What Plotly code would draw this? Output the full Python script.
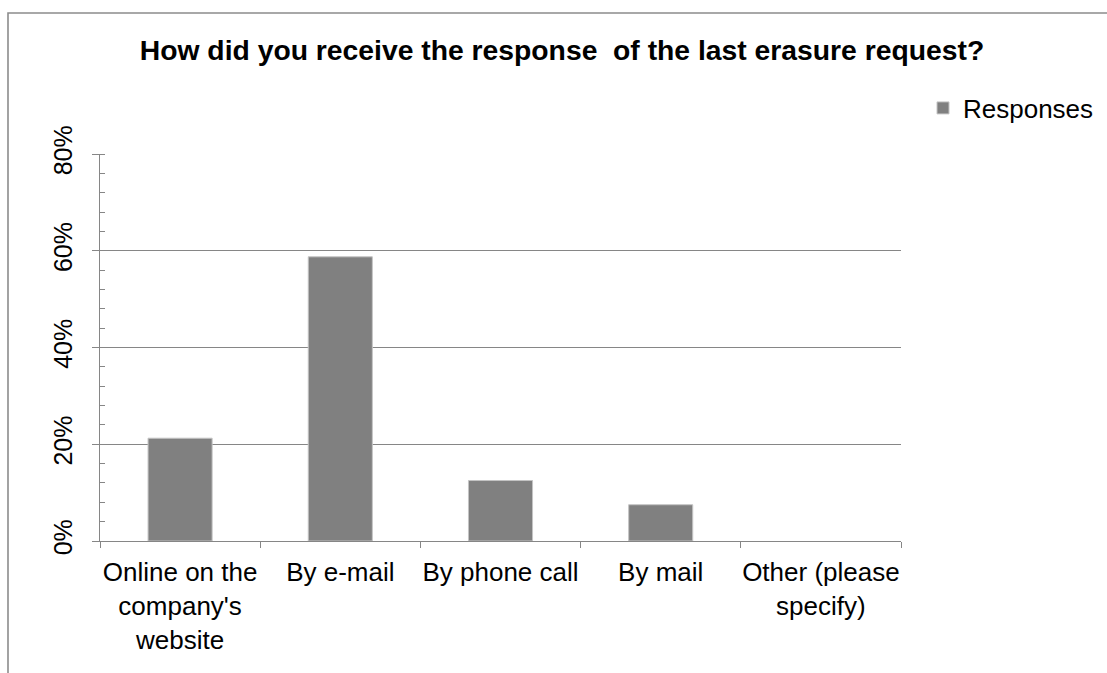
import plotly.graph_objects as go

categories = ["Online on the<br>company's<br>website", "By e-mail", "By phone call",
              "By mail", "Other (please<br>specify)"]
responses = [0.2125, 0.5875, 0.125, 0.075, 0.0]
y_ticks = [0, 0.2, 0.4, 0.6, 0.8]
y_tick_labels = ["0%", "20%", "40%", "60%", "80%"]

FONT = "Arial, Liberation Sans, sans-serif"
AXIS_GRAY = "#868686"

W, H = 1107, 673
L, R, T, B = 100, 206, 154, 132
pw, ph = W - L - R, H - T - B

fig = go.Figure()
fig.add_trace(go.Bar(
    x=categories, y=responses, name="Responses", width=0.4,
    marker=dict(color="#808080",
                line=dict(color="#c4c4c4", width=[1 if v > 0 else 0 for v in responses])),
))

# outer chart frame (only its top and left edges fall inside the page)
fig.add_shape(type="rect", xref="paper", yref="paper",
              x0=(8 - L) / pw, x1=(W + 60 - L) / pw,
              y0=-(B + 60) / ph, y1=1 + (T - 13) / ph,
              line=dict(color="#8c8c8c", width=1.6), layer="below")

fig.update_layout(
    width=W, height=H,
    margin=dict(l=L, r=R, t=T, b=B, autoexpand=False),
    paper_bgcolor="white", plot_bgcolor="white",
    font=dict(family=FONT, color="black", size=26),
    title=dict(text="How did you receive the response\u00a0 of the last erasure request?",
               font=dict(family=FONT, size=28.3, color="black", weight="bold"),
               xref="paper", x=(562 - L) / pw, xanchor="center",
               yref="container", y=1 - 50 / H, yanchor="middle"),
    showlegend=True,
    legend=dict(x=(923 - L) / pw, xanchor="left", y=1 + (T - 108) / ph, yanchor="middle",
                font=dict(family=FONT, size=26, color="black"),
                itemwidth=30, bgcolor="rgba(0,0,0,0)"),
    bargap=0.6,
)

fig.update_xaxes(
    showline=True, linecolor=AXIS_GRAY, linewidth=1, automargin=False, tickangle=0,
    ticks="outside", ticklen=6, tickcolor=AXIS_GRAY, tickson="boundaries",
    ticklabelstandoff=8,
    showgrid=False, tickfont=dict(family=FONT, size=26, color="black"),
)
fig.update_yaxes(
    range=[0, 0.8], tickvals=y_ticks, ticktext=y_tick_labels, tickangle=-90,
    automargin=False, ticklabelstandoff=10,
    showline=True, linecolor=AXIS_GRAY, linewidth=1,
    ticks="outside", ticklen=7, tickcolor=AXIS_GRAY,
    showgrid=True, gridcolor=AXIS_GRAY, gridwidth=1, zeroline=False,
    minor=dict(ticks="inside", dtick=0.04, ticklen=5, tickcolor=AXIS_GRAY, showgrid=False),
    tickfont=dict(family=FONT, size=25, color="black"),
)

fig.write_html("out.html")
